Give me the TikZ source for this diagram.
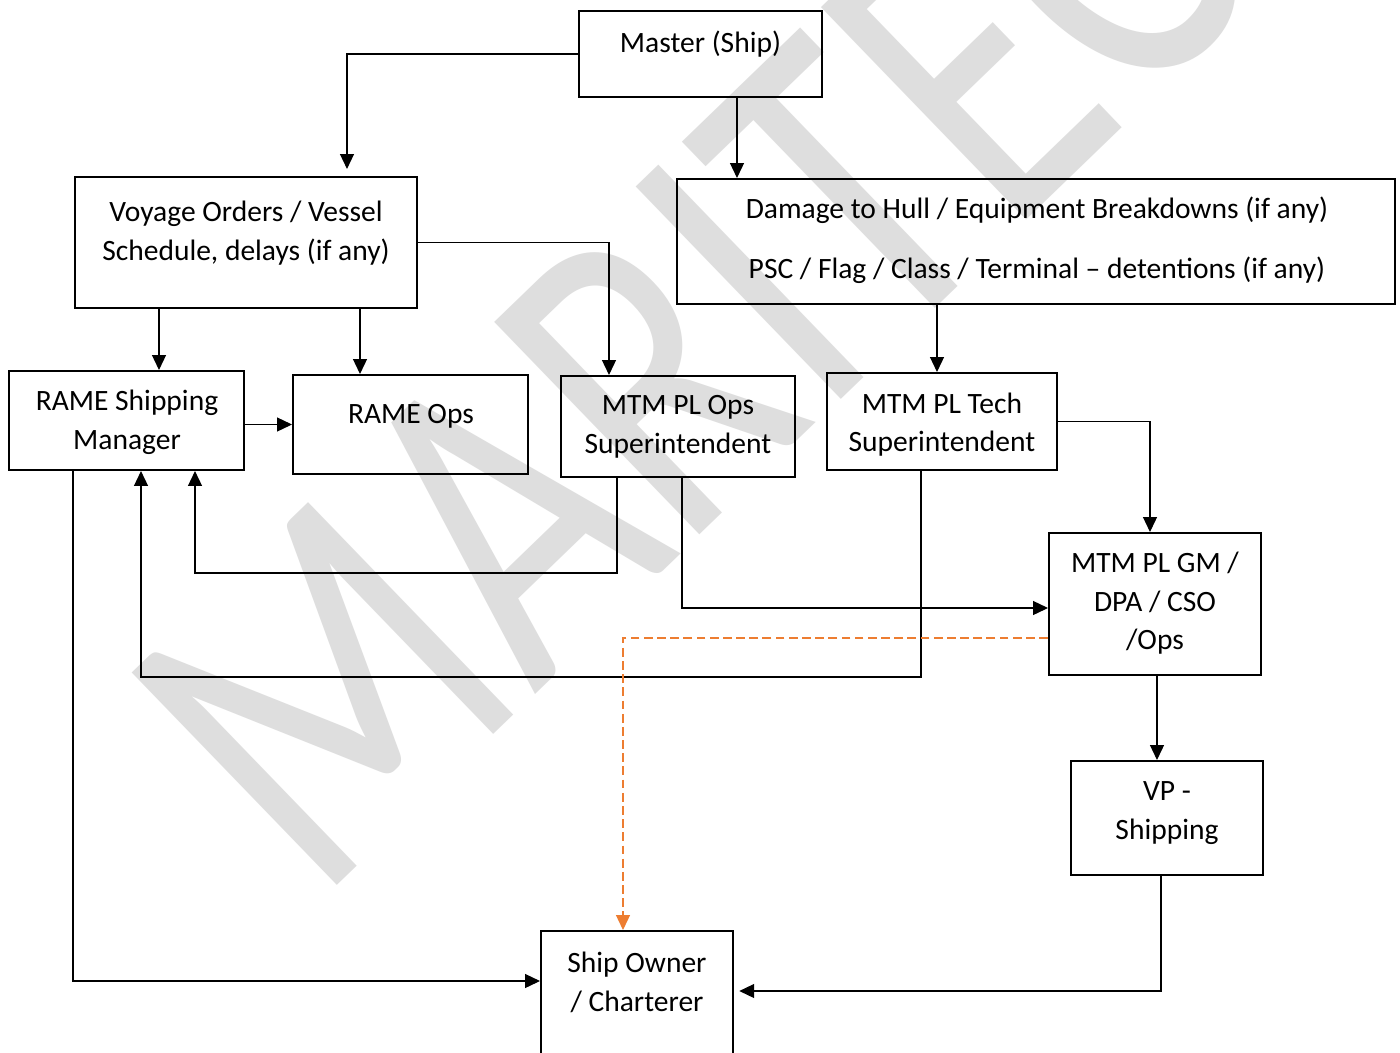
\documentclass[tikz,border=0pt]{standalone}
\usepackage{fontspec}
\setmainfont{Carlito}
\usetikzlibrary{arrows.meta}
\definecolor{wmgray}{RGB}{222,222,222}
\definecolor{orangeline}{RGB}{237,125,49}

\begin{document}
\begin{tikzpicture}[x=0.02cm,y=-0.02cm,
	box/.style={draw, line width=1.2pt, inner sep=0pt},
	lbl/.style={anchor=north, inner sep=0pt, align=center, font=\fontsize{16.8}{22}\selectfont, execute at begin node=\strut},
	arr/.style={line width=0.6pt, -{Triangle[length=8.5pt,width=8pt]}},
	dasharr/.style={arr, color=orangeline, dash pattern=on 5pt off 2.5pt},
	wmark/.style={text=wmgray, inner sep=0pt, font=\fontsize{262}{262}\selectfont}]
	\fill[white] (0,0) rectangle (1400,1052);
	\useasboundingbox (0,0) rectangle (1400,1052);
	% watermark
	\node[wmark, rotate=44, xscale=0.77, anchor=base west] (wm) at (316,906) {MARITEC};
	% boxes
	\node[box, minimum width=4.86cm, minimum height=1.72cm] (master) at (700.5,54) {};
	\node[box, minimum width=6.84cm, minimum height=2.62cm] (voyage) at (246,242.5) {};
	\node[box, minimum width=14.36cm, minimum height=2.5cm] (damage) at (1036,241.5) {};
	\node[box, minimum width=4.7cm, minimum height=1.98cm] (rship) at (126.5,420.5) {};
	\node[box, minimum width=4.7cm, minimum height=1.98cm] (rops) at (410.5,424.5) {};
	\node[box, minimum width=4.68cm, minimum height=2.02cm] (mops) at (678,426.5) {};
	\node[box, minimum width=4.6cm, minimum height=1.94cm] (mtech) at (942,421.5) {};
	\node[box, minimum width=4.24cm, minimum height=2.84cm] (gm) at (1155,604) {};
	\node[box, minimum width=3.84cm, minimum height=2.28cm] (vp) at (1167,818) {};
	\node[box, minimum width=3.84cm, minimum height=2.88cm] (owner) at (637,1003) {};
	% texts
	\node[lbl] (master-t) at (700.5,25) {Master (Ship)};
	\node[lbl] (voyage-t) at (246,200.8) {Voyage Orders / Vessel\\Schedule, delays (if any)};
	\node[lbl] (damage-t) at (1037,196.8) {Damage to Hull / Equipment Breakdowns (if any)\\[12pt]PSC / Flag / Class / Terminal -- detentions (if any)};
	\node[lbl] (rship-t) at (127,389.8) {RAME Shipping\\Manager};
	\node[lbl] (rops-t) at (411,395.8) {RAME Ops};
	\node[lbl] (mops-t) at (678,395.3) {MTM PL Ops\\Superintendent};
	\node[lbl] (mtech-t) at (942,392.3) {MTM PL Tech\\Superintendent};
	\node[lbl] (gm-t) at (1155,551.8) {MTM PL GM /\\DPA / CSO\\/Ops};
	\node[lbl] (vp-t) at (1167,781.3) {VP -\\Shipping};
	\node[lbl] (owner-t) at (637,952) {Ship Owner\\/ Charterer};
	% connectors
	\draw[arr, shorten >=4pt] (master.west) -| (voyage.north -| 347,0);
	\draw[arr] (master.south -| 737,0) -- (damage.north -| 737,0);
	\draw[arr] (voyage.east) -| (mops.north -| 609,0);
	\draw[arr] (voyage.south -| 159,0) -- (rship.north -| 159,0);
	\draw[arr] (voyage.south -| 360,0) -- (rops.north -| 360,0);
	\draw[arr] (rship.east |- rops.west) -- (rops.west);
	\draw[arr] (damage.south -| 937,0) -- (mtech.north -| 937,0);
	\draw[arr] (mtech.east) -| (gm.north -| 1150,0);
	\draw[arr] (mops.south -| 617,0) |- (195,573) -- (rship.south -| 195,0);
	\draw[arr] (mtech.south -| 921,0) |- (141,677) -- (rship.south -| 141,0);
	\draw[arr] (mops.south -| 682,0) |- (gm.west |- 0,608);
	\draw[dasharr] (gm.west |- 0,638) -| (owner.north -| 623,0);
	\draw[arr] (gm.south -| 1157,0) -- (vp.north -| 1157,0);
	\draw[arr] (rship.south -| 73,0) |- (owner.west |- 0,981);
	\draw[arr, shorten >=3pt] (vp.south -| 1161,0) |- (owner.east |- 0,991);
\end{tikzpicture}
\end{document}
